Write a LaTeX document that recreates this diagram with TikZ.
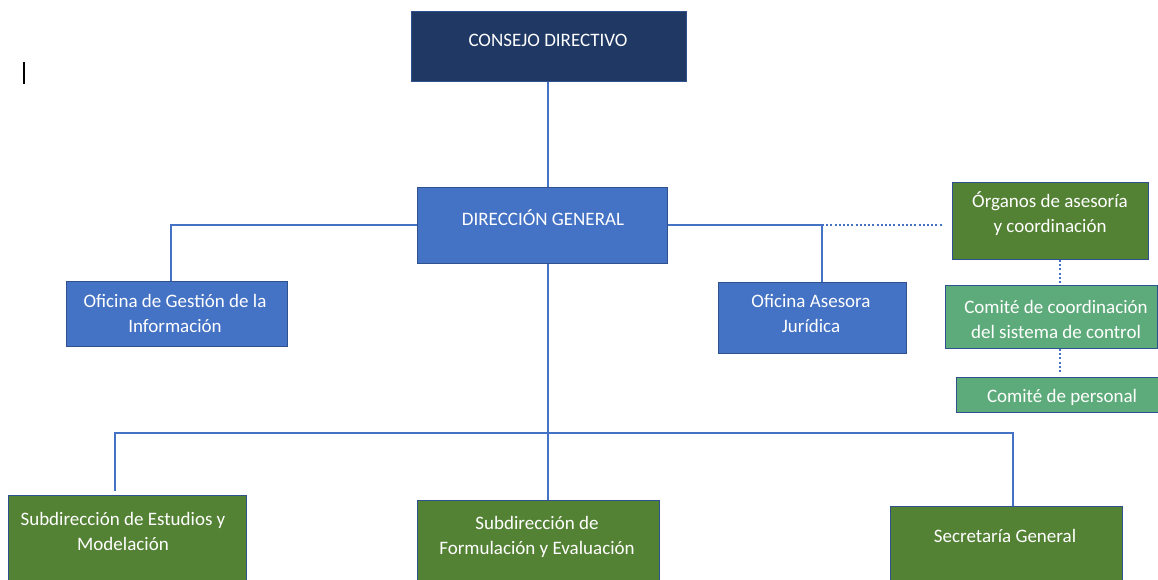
\documentclass[tikz,border=0pt]{standalone}
\usepackage{fontspec}
\setmainfont{Carlito}
\usetikzlibrary{calc}
\definecolor{navy}{HTML}{203864}
\definecolor{blu}{HTML}{4472C4}
\definecolor{bord}{HTML}{2F528F}
\definecolor{dgreen}{HTML}{548235}
\definecolor{mgreen}{HTML}{5DAB7A}
\tikzset{
  box/.style={draw=bord, line width=0.9pt, inner sep=0pt},
  navybox/.style={box, fill=navy},
  bluebox/.style={box, fill=blu},
  greenbox/.style={box, fill=dgreen},
  lgreenbox/.style={box, fill=mgreen},
  txt/.style={text=white, align=center, inner sep=0pt, font=\fontsize{19}{25}\selectfont},
  conn/.style={draw=blu, line width=2.2pt},
  dotconn/.style={draw=blu, line width=2.2pt, dash pattern=on 2pt off 2.2pt}
}
\begin{document}
\begin{tikzpicture}[x=1pt,y=-1pt]
\useasboundingbox (0,0) rectangle (1158,580);
\clip (0,0) rectangle (1158,580);
\fill[white] (0,0) rectangle (1158,580);
% boxes
\node[navybox, minimum width=275pt, minimum height=70pt, anchor=north west] (cd) at (411,11) {};
\node[bluebox, minimum width=250pt, minimum height=76pt, anchor=north west] (dg) at (417,187) {};
\node[bluebox, minimum width=221pt, minimum height=65pt, anchor=north west] (ogi) at (66,281) {};
\node[bluebox, minimum width=188pt, minimum height=71pt, anchor=north west] (oaj) at (718,282) {};
\node[greenbox, minimum width=196pt, minimum height=77pt, anchor=north west] (org) at (952,182) {};
\node[lgreenbox, minimum width=212pt, minimum height=63pt, anchor=north west] (cc) at (945,285) {};
\node[lgreenbox, minimum width=204pt, minimum height=35pt, anchor=north west] (cp) at (956,377) {};
\node[greenbox, minimum width=238pt, minimum height=100pt, anchor=north west] (se) at (8,495) {};
\node[greenbox, minimum width=242pt, minimum height=100pt, anchor=north west] (sf) at (417,500) {};
\node[greenbox, minimum width=232pt, minimum height=100pt, anchor=north west] (sg) at (890,506) {};
% texts
\node[txt] (tcd) at (548,40) {CONSEJO DIRECTIVO};
\node[txt] (tdg) at (543,218) {DIRECCIÓN GENERAL};
\node[txt] (togi) at (175,313.5) {Oficina de Gestión de la\\Información};
\node[txt] (toaj) at (811,313.5) {Oficina Asesora\\Jurídica};
\node[txt] (torg) at (1050,214) {Órganos de asesoría\\y coordinación};
\node[txt] (tcc) at (1056,319) {Comité de coordinación\\del sistema de control};
\node[txt] (tcp) at (1062,397) {Comité de personal};
\node[txt] (tse) at (123,531) {Subdirección de Estudios y\\Modelación};
\node[txt] (tsf) at (537,536.5) {Subdirección de\\Formulación y Evaluación};
\node[txt] (tsg) at (1005,536) {Secretaría General};
% helper coordinates
\coordinate (j) at (822,225);
\coordinate (k) at (1060,0);
\coordinate (b) at (548,433);
\coordinate (bl) at (115,433);
\coordinate (br) at (1013,433);
\coordinate (lg) at (171,225);
% connectors
\draw[conn] (cd.south -| b) -- (dg.north -| b);
\draw[conn] (dg.west |- lg) -- (lg) -- (ogi.north -| lg);
\draw[conn] (dg.east |- j) -- (j) -- (oaj.north -| j);
\draw[dotconn, shorten >=9pt] (j) -- (org.west |- j);
\draw[dotconn] (org.south -| k) -- (cc.north -| k);
\draw[dotconn, shorten >=5pt] (cc.south -| k) -- (cp.north -| k);
\draw[conn] (dg.south -| b) -- (sf.north -| b);
\draw[conn, shorten <=4pt] (se.north -| bl) -- (bl) -- (br) -- (sg.north -| br);
% text cursor
\coordinate (c1) at (24,62);
\coordinate (c2) at (24,84);
\draw[black, line width=1.2pt] (c1) -- (c2);
\end{tikzpicture}
\end{document}
